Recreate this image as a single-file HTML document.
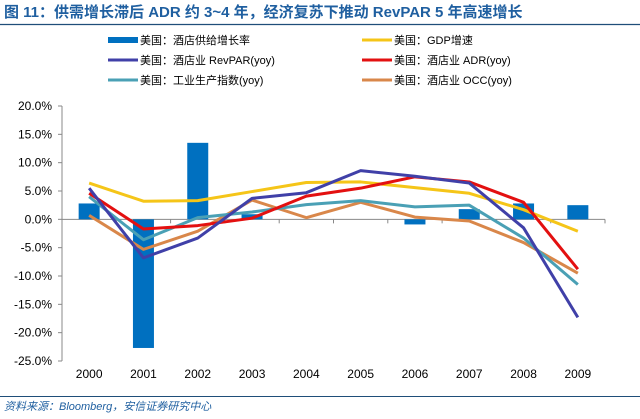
<!DOCTYPE html>
<html><head><meta charset="utf-8"><style>
body{margin:0;background:#fff;width:640px;height:414px;overflow:hidden;font-family:"Liberation Sans","Noto Sans CJK SC",sans-serif}
</style></head><body>
<svg width="640" height="414" xmlns="http://www.w3.org/2000/svg">
<text x="4" y="17" font-size="15" font-weight="bold" fill="#1f5fa0" font-family="Liberation Sans, Noto Sans CJK SC, sans-serif">图 11：供需增长滞后 ADR 约 3~4 年，经济复苏下推动 RevPAR 5 年高速增长</text>
<line x1="0" y1="24.5" x2="640" y2="24.5" stroke="#1f4e79" stroke-width="1.2"/>
<g id="legend" font-size="11" fill="#000"></g>
<g id="axes" font-size="12" fill="#000"></g>
<g id="marks"></g>
<line x1="0" y1="396.5" x2="640" y2="396.5" stroke="#1f4e79" stroke-width="1"/>
<text x="4" y="410" font-size="11" font-style="italic" fill="#1f5fa0">资料来源：Bloomberg，安信证券研究中心</text>
</svg>
<script>
const categories=["2000","2001","2002","2003","2004","2005","2006","2007","2008","2009"];
const supply=[2.8,-22.7,13.5,0.9,0,0,-0.9,1.8,2.8,2.5];
const gdp=[6.4,3.2,3.3,4.9,6.5,6.6,5.6,4.6,1.7,-2.1];
const revpar=[5.5,-6.8,-3.3,3.7,4.7,8.6,7.6,6.4,-1.5,-17.3];
const adr=[4.6,-1.7,-1.1,0.2,4.1,5.5,7.5,6.6,3.0,-8.8];
const ip=[4.0,-3.6,0.3,1.3,2.6,3.3,2.2,2.5,-3.3,-11.5];
const occ=[0.7,-5.3,-2.1,3.4,0.3,3.0,0.4,-0.3,-4.1,-9.5];
const yTicks=[20,15,10,5,0,-5,-10,-15,-20,-25];
const NS="http://www.w3.org/2000/svg";
const X0=62,X1=605,Y0=106,Y1=361,YMAX=20,YMIN=-25;
const step=(X1-X0)/categories.length;
const xs=i=>X0+step*(i+0.5);
const ys=v=>Y0+(YMAX-v)/(YMAX-YMIN)*(Y1-Y0);
function mk(tag,attrs,parent){const e=document.createElementNS(NS,tag);for(const k in attrs)e.setAttribute(k,attrs[k]);parent.appendChild(e);return e;}
const axes=document.getElementById('axes'),marks=document.getElementById('marks'),legend=document.getElementById('legend');
let e=mk('line',{x1:X0,y1:Y0,x2:X0,y2:Y1,stroke:'#888'},axes);


yTicks.forEach(t=>{
 let l=mk('line',{x1:X0-4,x2:X0,y1:ys(t),y2:ys(t),stroke:'#888'},axes);
 
 
 let tx=mk('text',{x:X0-10,y:ys(t)+4,'text-anchor':'end'},axes);tx.textContent=t.toFixed(1)+'%';
 
 
});
// bars
supply.forEach((v,i)=>{
 let r=mk('rect',{x:xs(i)-10.5,width:21,y:Math.min(ys(v),ys(0)),height:Math.abs(ys(v)-ys(0)),fill:'#0070c0'},marks);
 
 
});
e=mk('line',{x1:X0,y1:ys(0),x2:X1,y2:ys(0),stroke:'#888'},axes);


for(let i=0;i<=categories.length;i++){
 let l=mk('line',{x1:X0+step*i,x2:X0+step*i,y1:ys(0),y2:ys(0)+4,stroke:'#888'},axes);
 
 
}
categories.forEach((c,i)=>{
 let tx=mk('text',{x:xs(i),y:378,'text-anchor':'middle'},axes);tx.textContent=c;
 
 
});
const series=[[gdp,'#f5c518','gdp'],[occ,'#d9874a','occ'],[ip,'#4aa0b5','ip'],[adr,'#e31010','adr'],[revpar,'#4040a8','revpar']];
series.forEach(([d,c,n])=>{
 let p=mk('polyline',{points:d.map((v,i)=>xs(i)+','+ys(v)).join(' '),fill:'none',stroke:c,'stroke-width':3,'stroke-linejoin':'round'},marks);
 
 
});
const leg=[['美国：酒店供给增长率','#0070c0',108,40,6],['美国：GDP增速','#f5c518',362,40,3],['美国：酒店业 RevPAR(yoy)','#4040a8',108,60,3],['美国：酒店业 ADR(yoy)','#e31010',362,60,3],['美国：工业生产指数(yoy)','#4aa0b5',108,80,3],['美国：酒店业 OCC(yoy)','#d9874a',362,80,3]];
leg.forEach(([t,c,x,y,h])=>{
 let g=mk('g',{},legend);
 
 
 mk('rect',{x:x,y:y-h/2,width:30,height:h,fill:c},g);
 let tx=mk('text',{x:x+32,y:y+4},g);tx.textContent=t;
});
</script>
</body></html>
